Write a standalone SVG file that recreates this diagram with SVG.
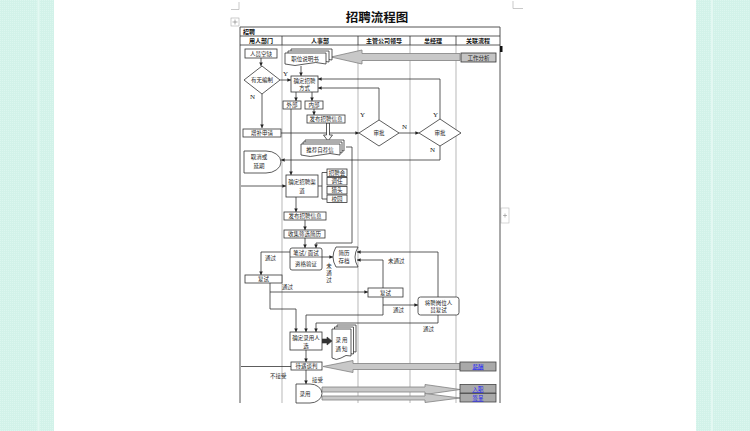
<svg xmlns="http://www.w3.org/2000/svg" width="750" height="431" viewBox="0 0 750 431">
<defs>
<marker id="ah" viewBox="0 0 6 6" refX="6" refY="3" markerWidth="3.6" markerHeight="3.6" markerUnits="userSpaceOnUse" orient="auto"><path d="M0,0 L6,3 L0,6 Z" fill="#222"/></marker>
<pattern id="dots" width="2" height="2" patternUnits="userSpaceOnUse"><rect width="2" height="2" fill="#d2f2e9"/><rect width="1" height="1" fill="#dcf6ef"/></pattern>
</defs>
<style>
.t{font-family:"Noto Sans CJK SC","Noto Sans",sans-serif;font-size:5.5px;fill:#222;text-anchor:middle}
.h{font-family:"Noto Sans CJK SC","Noto Sans",sans-serif;font-size:6px;font-weight:bold;fill:#111;text-anchor:middle}
.yn{font-family:"Liberation Serif",serif;font-size:7px;fill:#222}
.box{fill:#fff;stroke:#333;stroke-width:0.8}
.c{fill:none;stroke:#333;stroke-width:0.8;marker-end:url(#ah)}
.cn{fill:none;stroke:#333;stroke-width:0.8}
.big{fill:#c8c8c8;stroke:#808080;stroke-width:0.8}
.gb{fill:#a9a9a9;stroke:#444;stroke-width:0.8}
.lk{font-family:"Noto Sans CJK SC","Noto Sans",sans-serif;font-size:5.5px;fill:#1a1aff;text-anchor:middle;text-decoration:underline}
.div{stroke:#c4c4c4;stroke-width:1.2}
</style>
<rect width="750" height="431" fill="#fff"/>
<rect x="0" y="0" width="54" height="431" fill="url(#dots)"/>
<rect x="37.5" y="0" width="2" height="431" fill="#e3f8f2"/>
<rect x="696" y="0" width="54" height="431" fill="url(#dots)"/>
<rect x="711" y="0" width="2" height="431" fill="#e3f8f2"/>
<path d="M231,9.5 H239 V2" fill="none" stroke="#bbb" stroke-width="0.8"/>
<path d="M513,1 V8.5 H523" fill="none" stroke="#bbb" stroke-width="0.8"/>
<rect x="231" y="18" width="8" height="8" fill="#fff" stroke="#aaa" stroke-width="0.6"/>
<path d="M235,19.5 V24.5 M232.5,22 H237.5" stroke="#777" stroke-width="0.6"/>
<rect x="501" y="208" width="8" height="15" fill="#fff" stroke="#bbb" stroke-width="0.6"/>
<path d="M505,213.5 V217.5 M503,215.5 H507" stroke="#888" stroke-width="0.6"/>
<text x="377" y="22" style="font-family:'Noto Sans CJK SC',sans-serif;font-size:12.5px;font-weight:bold;fill:#111;text-anchor:middle">招聘流程图</text>
<g id="table">
<line class="div" x1="282" y1="45" x2="282" y2="403"/>
<line class="div" x1="358" y1="45" x2="358" y2="403"/>
<line class="div" x1="410" y1="45" x2="410" y2="403"/>
<line class="div" x1="456" y1="45" x2="456" y2="403"/>
<path d="M240,403 V27 H500 V403" fill="none" stroke="#555" stroke-width="1"/>
<path d="M240,36 H500 M240,45 H500 M282,36 V45 M358,36 V45 M410,36 V45 M456,36 V45" stroke="#333" stroke-width="0.8"/>
<rect x="500" y="46" width="2.5" height="6" fill="#111"/>
<text x="243" y="34" class="h" style="text-anchor:start">招聘</text>
<text x="261" y="43" class="h">用人部门</text>
<text x="320" y="43" class="h">人事部</text>
<text x="384" y="43" class="h">主管公司领导</text>
<text x="433" y="43" class="h">总经理</text>
<text x="478" y="43" class="h">关联流程</text>
</g>
<g id="connectors">
<path class="c" d="M261,58 V66"/>
<path class="c" d="M280,80 H291"/>
<path class="c" d="M262,94 V128"/>
<path class="c" d="M281,133 H359"/>
<path class="c" d="M399,133 H419"/>
<path class="c" d="M379,120 V88 H318"/>
<path class="c" d="M440,119 V79 H318"/>
<path class="c" d="M440,146 V160 H281"/>
<path class="c" d="M301,66 V76"/>
<path class="c" d="M296,92 V101"/>
<path class="c" d="M312,92 V101"/>
<path class="c" d="M291,109 V175"/>
<path class="c" d="M314,109 V115"/>
<path d="M326.5,123 V135 H323.5 L328,141 L332.5,135 H329.5 V123 Z" fill="#fff" stroke="#333" stroke-width="0.8"/>
<path class="c" d="M346,147 H352 V243 H316 V248"/>
<path class="c" d="M241,186 H286"/>
<path class="cn" d="M318,186 H322 M327,172.5 H322 V199 H327"/>
<path class="c" d="M296,197 V212"/>
<path class="c" d="M305,220 V230"/>
<path class="c" d="M305,238 V248"/>
<path class="c" d="M322,257 H333"/>
<path class="c" d="M290,252 H261 V275"/>
<path class="c" d="M270,283 V292 H368"/>
<path class="c" d="M270,292 V309 H296 V332"/>
<path class="c" d="M383,288 V260 H357"/>
<path class="c" d="M383,297 V305 H418"/>
<path class="c" d="M383,305 V315 H306 V332"/>
<path class="c" d="M438,297 V252 H357"/>
<path class="c" d="M438,315 V323 H316 V332"/>
<path d="M322,339 H327 V337 L332,341 L327,345 V343 H322 Z" fill="#333" stroke="#333" stroke-width="0.6"/>
<path class="c" d="M306,350 V362"/>
<path class="cn" d="M291,366.5 H241"/>
<path class="c" d="M306,370 V384"/>
<path class="big" d="M331,57 L362,50 L362,53.5 L460,53.5 L460,60.5 L362,60.5 L362,64 Z"/>
<path class="big" d="M323,366.5 L353,360.5 L353,363.5 L460,363.5 L460,369.5 L353,369.5 L353,372.5 Z"/>
<path class="big" d="M322,387 L425,387 L425,384.5 L460,389.5 L425,394.5 L425,392 L322,392 Z"/>
<path class="big" d="M322,396 L425,396 L425,393.5 L460,398 L425,402.5 L425,400 L322,400 Z"/>
<text x="283" y="76" class="yn">Y</text>
<text x="250" y="99" class="yn">N</text>
<text x="360" y="117" class="yn">Y</text>
<text x="402" y="129" class="yn">N</text>
<text x="433" y="117" class="yn">Y</text>
<text x="430" y="152" class="yn">N</text>
<text x="265" y="260" class="t" style="text-anchor:start">通过</text>
<text x="282" y="289" class="t" style="text-anchor:start">通过</text>
<text x="329" y="268" class="t">未</text>
<text x="329" y="275" class="t">通</text>
<text x="329" y="282" class="t">过</text>
<text x="388" y="263" class="t" style="text-anchor:start">未通过</text>
<text x="393" y="312" class="t" style="text-anchor:start">通过</text>
<text x="423" y="331" class="t" style="text-anchor:start">通过</text>
<text x="270" y="378" class="t" style="text-anchor:start">不接受</text>
<text x="312" y="382" class="t" style="text-anchor:start">接受</text>
</g>
<g id="n-renyuan"><rect class="box" x="245" y="49" width="32" height="9"/><text class="t" x="261" y="55.5">人员空缺</text></g>
<g id="n-bianzhi"><path class="box" d="M262,66 L280,80 L262,94 L244,80 Z"/><text class="t" x="262" y="82">有无编制</text></g>
<g id="n-zengbu"><rect class="box" x="243" y="129" width="38" height="8"/><text class="t" x="262" y="135">增补申请</text></g>
<g id="n-quxiao"><path class="box" d="M244,151 H266 A15,11 0 0 1 266,173 H244 Z"/><text class="t" x="259" y="159">取消或</text><text class="t" x="259" y="168">延期</text></g>
<g id="n-zhiwei">
<path class="box" d="M291,49 H332 V60 Q322,57 311,60 Q301,63 291,60 Z"/>
<path class="box" d="M288,51 H329 V62 Q319,59 308,62 Q298,65 288,62 Z"/>
<path class="box" d="M285,53 H326 V64 Q316,61 305,64 Q295,67 285,64 Z"/>
<text class="t" x="305" y="61">职位说明书</text></g>
<g id="n-gongzuo"><rect x="461" y="53" width="35" height="9" fill="#c4c4c4" stroke="#333" stroke-width="0.8"/><text class="t" x="478.5" y="59.5">工作分析</text></g>
<g id="n-fangshi"><rect class="box" x="291" y="76" width="27" height="16"/><text class="t" x="304.5" y="83">确定招聘</text><text class="t" x="304.5" y="90">方式</text></g>
<g id="n-waibu"><rect class="box" x="283" y="101" width="18" height="8"/><text class="t" x="292" y="107">外部</text></g>
<g id="n-neibu"><rect class="box" x="305" y="101" width="18" height="8"/><text class="t" x="314" y="107">内部</text></g>
<g id="n-shenpi1"><path class="box" d="M379,120 L399,133 L379,146 L359,133 Z"/><text class="t" x="379" y="135">审批</text></g>
<g id="n-shenpi2"><path class="box" d="M440,119 L461,133 L440,146 L419,133 Z"/><text class="t" x="440" y="135">审批</text></g>
<g id="n-fabu2"><rect class="box" x="307" y="115" width="38" height="8"/><text class="t" x="326" y="121">发布招聘信息</text></g>
<g id="n-tuijian">
<path class="box" d="M305,140 H344 V151 Q334,148 324,151 Q314,154 305,151 Z"/>
<path class="box" d="M303,142 H342 V153 Q332,150 322,153 Q312,156 303,153 Z"/>
<path class="box" d="M301,144 H340 V155 Q330,152 320,155 Q310,158 301,155 Z"/>
<text class="t" x="320" y="152">推荐自荐信</text></g>
<g id="n-qudao"><rect class="box" x="286" y="175" width="32" height="22"/><text class="t" x="302" y="184">确定招聘渠</text><text class="t" x="302" y="193">道</text></g>
<g id="n-zhaopinhui"><rect class="box" x="327" y="169" width="20" height="7.5"/><text class="t" x="337" y="174.8">招聘会</text></g>
<g id="n-diaoren"><rect class="box" x="327" y="177.5" width="20" height="7.5"/><text class="t" x="337" y="183.3">调任</text></g>
<g id="n-lietou"><rect class="box" x="327" y="186.5" width="20" height="7.5"/><text class="t" x="337" y="192.3">猎头</text></g>
<g id="n-xiaoyuan"><rect class="box" x="327" y="195" width="20" height="7.5"/><text class="t" x="337" y="200.8">校园</text></g>
<g id="n-fabu1"><rect class="box" x="284" y="212" width="42" height="8"/><text class="t" x="305" y="218">发布招聘信息</text></g>
<g id="n-shouji"><rect class="box" x="284" y="230" width="41" height="8"/><text class="t" x="304.5" y="236">收集筛选简历</text></g>
<g id="n-bishi"><rect class="box" x="290" y="248" width="32" height="22" rx="2"/><line x1="290" y1="257" x2="322" y2="257" stroke="#333" stroke-width="0.7"/><text class="t" x="306" y="255">笔试/ 面试</text><text class="t" x="306" y="265.5">资格验证</text></g>
<g id="n-cundang"><path class="box" d="M336,247 H358 Q352,257 358,267 H336 Q330,257 336,247 Z"/><text class="t" x="344" y="255">简历</text><text class="t" x="344" y="263">存档</text></g>
<g id="n-fushi1"><rect class="box" x="245" y="275" width="37" height="8"/><text class="t" x="263.5" y="281">复试</text></g>
<g id="n-fushi2"><rect class="box" x="368" y="288" width="35" height="9"/><text class="t" x="385.5" y="294.5">复试</text></g>
<g id="n-jiangpin"><rect class="box" x="418" y="297" width="41" height="18" rx="2.5"/><text class="t" x="438.5" y="304.5">将聘岗位人</text><text class="t" x="438.5" y="312">员复试</text></g>
<g id="n-luyongren"><rect class="box" x="290" y="332" width="32" height="18"/><text class="t" x="306" y="339.5">确定录用人</text><text class="t" x="306" y="347.5">选</text></g>
<g id="n-tongzhi">
<path class="box" d="M337,325 H356 V352 Q351,350 346,354 Q341,357 337,354 Z"/>
<path class="box" d="M334.5,327 H353.5 V354 Q348.5,352 343.5,356 Q338.5,359 334.5,356 Z"/>
<path class="box" d="M332,329 H351 V356 Q346,354 341,358 Q336,361 332,358 Z"/>
<text class="t" x="341.5" y="342">录 用</text><text class="t" x="341.5" y="351">通 知</text></g>
<g id="n-daiyu"><rect class="box" x="291" y="362" width="31" height="8"/><text class="t" x="306.5" y="368">待遇谈判</text></g>
<g id="n-xinchou"><rect class="gb" x="460" y="362" width="36" height="9"/><text class="lk" x="478" y="368.5">薪酬</text></g>
<g id="n-luyong"><path class="box" d="M296,384 H310 A12,9.5 0 0 1 310,403 H296 Z"/><text class="t" x="305" y="395.5">录用</text></g>
<g id="n-ruzhi"><rect class="gb" x="460" y="384.5" width="36" height="8.5"/><text class="lk" x="478" y="391">入职</text></g>
<g id="n-qiancheng"><rect class="gb" x="460" y="393.5" width="36" height="8.5"/><text class="lk" x="478" y="400">签呈</text></g>
</svg>
